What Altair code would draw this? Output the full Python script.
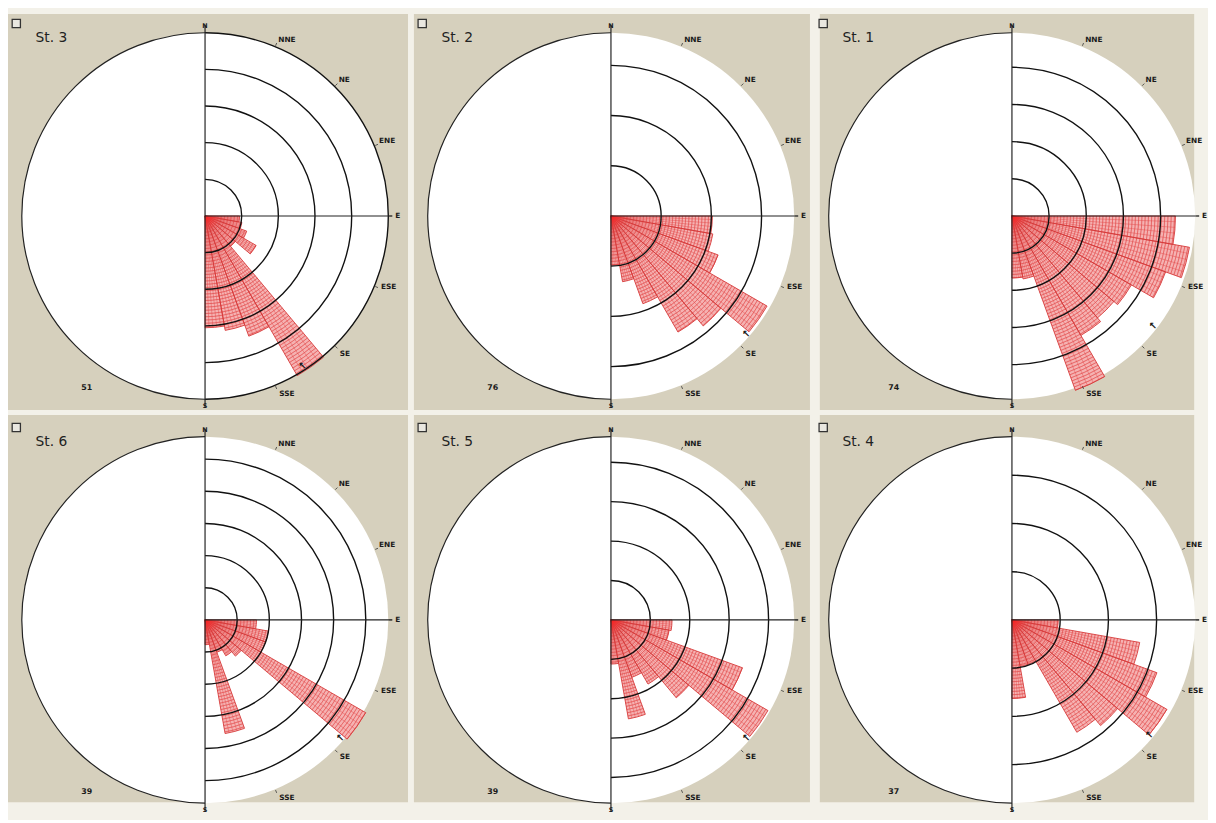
import altair as alt
import numpy as np
import pandas as pd

# ---------------- data ----------------
STATIONS = ["St. 3", "St. 2", "St. 1", "St. 6", "St. 5", "St. 4"]
COUNTS = ["51", "76", "74", "39", "39", "37"]
BIN_START = [90, 100, 110, 120, 130, 140, 150, 160, 170]   # 10-degree bins
BIN_WIDTH = 10
# petal lengths in ring units (1 = first grid ring)
PETALS_ST3 = [0.94, 1.02, 1.21, 1.61, 1.08, 5.03, 3.49, 3.17, 3.05]
PETALS_ST2 = [2.02, 2.06, 2.27, 3.59, 2.86, 2.67, 1.86, 1.33, 0.98]
PETALS_ST1 = [4.40, 4.85, 4.40, 3.71, 3.58, 3.71, 4.99, 1.72, 1.67]
PETALS_ST6 = [1.60, 2.00, 2.00, 5.77, 1.47, 1.29, 1.07, 3.59, 0.77]
PETALS_ST5 = [1.55, 1.50, 3.55, 4.60, 2.58, 1.88, 1.55, 2.55, 1.12]
PETALS_ST4 = [0.96, 2.69, 3.20, 3.71, 2.86, 2.69, 0.98, 0.98, 1.63]
PETALS = [PETALS_ST3, PETALS_ST2, PETALS_ST1, PETALS_ST6, PETALS_ST5, PETALS_ST4]
N_RINGS = [5, 3, 4, 5, 4, 3]
OUTER = [5.0, 3.65, 4.93, 5.7, 4.65, 3.8]        # outer circle, ring units
MEAN_DIR = [150, 134, 131, 134, 134, 133]          # mean-direction arrow
COMPASS = ["N", "NNE", "NE", "ENE", "E", "ESE", "SE", "SSE", "S"]
COMPASS_DEG = [0, 22.5, 45, 67.5, 90, 112.5, 135, 157.5, 180]

# ---------------- layout / style ----------------
R_PX = 186
COL_W = [406, 402, 380]
COL_LEFT = [200, 200, 195]
ROW_H = [402, 393]
ROW_TOP = [205, 208]
BEIGE = "#d6d0bd"
FONT = "DejaVu Sans"
PETAL_FILL = "#f5b2b2"
PETAL_STROKE = "#d63a3a"
HATCH = "#e24a4a"
HATCH_PX = 3.3        # hatch spacing in pixels
HATCH_DEG = [2, 4, 6, 8]


def polar(deg, rad):
    a = np.radians(np.asarray(deg, dtype=float))
    return rad * np.sin(a), rad * np.cos(a)


def build(i):
    row, col = divmod(i, 3)
    out = OUTER[i]
    k = R_PX / out
    W, H = COL_W[col], ROW_H[row]
    left, top = COL_LEFT[col], ROW_TOP[row]
    xs = alt.Scale(domain=[-left / k, (W - left) / k], nice=False, zero=False)
    ys = alt.Scale(domain=[-(H - top) / k, top / k], nice=False, zero=False)
    rs = alt.Scale(type="linear", domain=[0, out], range=[0, R_PX], zero=True, nice=False)
    ts = alt.Scale(domain=[0, 360], range=[0, 2 * np.pi])

    def arc_enc():
        return dict(
            x=alt.X("cx:Q", scale=xs, axis=None),
            y=alt.Y("cy:Q", scale=ys, axis=None),
            theta=alt.Theta("t0:Q", scale=ts, stack=None),
            theta2=alt.Theta2("t1"),
            radius=alt.Radius("r0:Q", scale=rs),
            radius2=alt.Radius2("r1"),
        )

    def arcs(t0, t1, r0, r1):
        n = len(r0)
        return pd.DataFrame({"cx": [0.0] * n, "cy": [0.0] * n, "t0": t0, "t1": t1,
                             "r0": r0, "r1": r1})

    def rules(x0, y0, x1, y1):
        return pd.DataFrame({"x0": x0, "y0": y0, "x1": x1, "y1": y1})

    def rule_enc():
        return dict(x=alt.X("x0:Q", scale=xs, axis=None), y=alt.Y("y0:Q", scale=ys, axis=None),
                    x2=alt.X2("x1"), y2=alt.Y2("y1"))

    layers = []
    # white disk
    disk = arcs([0], [360], [out], [0])
    layers.append(alt.Chart(disk).mark_arc(fill="white", stroke=None).encode(**arc_enc()))

    # petals (filled wedges)
    vals = PETALS[i]
    pet = arcs(BIN_START, [b + BIN_WIDTH for b in BIN_START], vals, [0] * len(vals))
    layers.append(alt.Chart(pet).mark_arc(fill=PETAL_FILL, stroke=None).encode(**arc_enc()))

    # hatch texture: concentric arcs + radial strokes inside every petal
    step = HATCH_PX / k
    ht0, ht1, hr = [], [], []
    for b, v in zip(BIN_START, vals):
        r = step
        while r < v:
            ht0.append(b)
            ht1.append(b + BIN_WIDTH)
            hr.append(r)
            r += step
    hatch_arcs = arcs(ht0, ht1, hr, hr)
    layers.append(alt.Chart(hatch_arcs).mark_arc(filled=False, stroke=HATCH, strokeWidth=0.55,
                                                 strokeOpacity=0.85).encode(**arc_enc()))
    rdeg, rlen = [], []
    for b, v in zip(BIN_START, vals):
        for d in HATCH_DEG:
            rdeg.append(b + d)
            rlen.append(v)
    ex, ey = polar(rdeg, np.array(rlen))
    hl = rules([0.0] * len(rdeg), [0.0] * len(rdeg), ex, ey)
    layers.append(alt.Chart(hl).mark_rule(color=HATCH, strokeWidth=0.55,
                                          strokeOpacity=0.85).encode(**rule_enc()))
    # petal outlines
    layers.append(alt.Chart(pet).mark_arc(filled=False, stroke=PETAL_STROKE,
                                          strokeWidth=0.9).encode(**arc_enc()))
    # dense red centre where petals converge
    glow = arcs([90], [180], [16 / k], [0])
    gfill = alt.RadialGradient(
        gradient="radial",
        stops=[alt.GradientStop(color="#ff1a1a", offset=0),
               alt.GradientStop(color="rgba(240,80,80,0)", offset=1)],
        x1=0, y1=0, x2=0, y2=0, r1=0, r2=1)
    layers.append(alt.Chart(glow).mark_arc(fill=gfill, stroke=None).encode(**arc_enc()))

    # grid rings (right half only)
    rr = list(range(1, N_RINGS[i] + 1))
    rings = arcs([0] * len(rr), [180] * len(rr), rr, rr)
    layers.append(alt.Chart(rings).mark_arc(filled=False, stroke="#111111",
                                            strokeWidth=1.4).encode(**arc_enc()))
    # left outline
    lo = arcs([180], [360], [out], [out])
    layers.append(alt.Chart(lo).mark_arc(filled=False, stroke="#222222",
                                         strokeWidth=1.2).encode(**arc_enc()))

    # axis lines N-S and centre-E
    ext = out + 8 / k
    axes = rules([0.0, 0.0], [ext, 0.0], [0.0, out + 4 / k], [-ext, 0.0])
    layers.append(alt.Chart(axes).mark_rule(color="#222222", strokeWidth=1.2).encode(**rule_enc()))

    # small ticks at the compass labels
    tdeg = COMPASS_DEG[1:8]
    tx0, ty0 = polar(tdeg, out + 1 / k)
    tx1, ty1 = polar(tdeg, out + 4 / k)
    layers.append(alt.Chart(rules(tx0, ty0, tx1, ty1)).mark_rule(
        color="#333333", strokeWidth=0.8).encode(**rule_enc()))

    # compass labels
    def lab_df(names, radius):
        degs = [COMPASS_DEG[COMPASS.index(n)] for n in names]
        px, py = polar(degs, radius)
        return pd.DataFrame({"x": px, "y": py, "t": names})

    def text_layer(df, **kw):
        base = dict(font=FONT, fontSize=7.5, fontWeight="bold", color="#1a1a1a")
        base.update(kw)
        return alt.Chart(df).mark_text(**base).encode(
            x=alt.X("x:Q", scale=xs, axis=None), y=alt.Y("y:Q", scale=ys, axis=None),
            text="t:N")

    rl = out + 3 / k
    layers.append(text_layer(lab_df(["N"], out + 4 / k), fontSize=6.5, align="center",
                             baseline="bottom"))
    layers.append(text_layer(lab_df(["S"], out + 4 / k), fontSize=6.5, align="center",
                             baseline="top"))
    layers.append(text_layer(lab_df(["NNE", "NE", "ENE"], rl), align="left",
                             baseline="bottom", dx=2))
    layers.append(text_layer(lab_df(["E", "ESE"], rl), align="left", baseline="middle", dx=4))
    layers.append(text_layer(lab_df(["SE", "SSE"], rl), align="left", baseline="top",
                             dx=3, dy=2))

    # mean direction arrow (just inside the rim)
    ax, ay = polar([MEAN_DIR[i] - 3], out - 4 / k)
    layers.append(text_layer(pd.DataFrame({"x": ax, "y": ay, "t": ["\u2196"]}),
                             fontSize=10, align="center", baseline="middle"))

    # sample count
    cnt = pd.DataFrame({"x": [-0.645 * out], "y": [-0.94 * out], "t": [COUNTS[i]]})
    layers.append(text_layer(cnt, fontSize=8, align="center", baseline="middle"))

    # station title
    ttl = pd.DataFrame({"x": [-0.925 * out], "y": [0.973 * out], "t": [STATIONS[i]]})
    layers.append(text_layer(ttl, fontSize=14, fontWeight="normal", color="#222222",
                             align="left", baseline="middle"))

    # little window icon
    icon = pd.DataFrame({"x": [-1.03 * out], "y": [1.05 * out]})
    layers.append(alt.Chart(icon).mark_point(shape="square", filled=True, size=70,
                                             fill="#e9e7e0", stroke="#333333",
                                             strokeWidth=1.3, opacity=1).encode(
        x=alt.X("x:Q", scale=xs, axis=None), y=alt.Y("y:Q", scale=ys, axis=None)))

    return alt.layer(*layers).properties(width=W, height=H)


panels = [build(i) for i in range(6)]
top_row = alt.hconcat(*panels[:3], spacing=6)
bottom_row = alt.hconcat(*panels[3:], spacing=6)
chart = (
    alt.vconcat(top_row, bottom_row, spacing=5)
    .properties(padding=0, background="#f3f1e9")
    .configure_view(stroke=None, fill=BEIGE)
)

chart.save("out.html", embed_options={"renderer": "svg", "actions": False})
